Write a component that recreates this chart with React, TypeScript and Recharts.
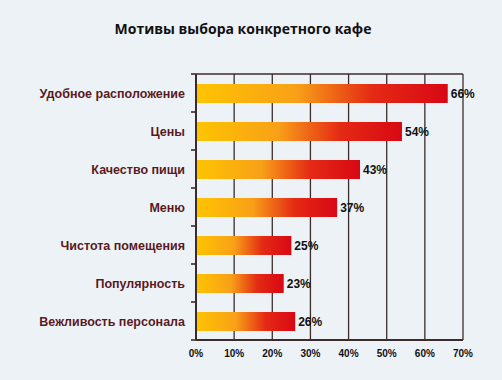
import { Bar, BarChart, CartesianGrid, LabelList, XAxis, YAxis } from "recharts";

const categories = [
  "Удобное расположение",
  "Цены",
  "Качество пищи",
  "Меню",
  "Чистота помещения",
  "Популярность",
  "Вежливость персонала",
];
const shares = [66, 54, 43, 37, 25, 23, 26];
const xTicks = [0, 10, 20, 30, 40, 50, 60, 70];

const data = categories.map((name, i) => ({ name, value: shares[i] }));

const axisColor = "#3b2c2c";
const TICK_SIZE = 6;
const TICK_MARGIN = 5;

// label plus a small tick mark on the band boundary, like the source chart
function CategoryTick(props: any) {
  const { x, y, payload, index, visibleTicksCount } = props;
  const half = payload?.offset || 19;
  const axisX = x + TICK_SIZE + TICK_MARGIN;
  const isLast = index === visibleTicksCount - 1;
  return (
    <g>
      <text
        x={x}
        y={y}
        dy={4.5}
        textAnchor="end"
        fill="#5a1a1e"
        fontSize={12.5}
        fontWeight={700}
      >
        {payload.value}
      </text>
      <line
        x1={axisX - 5}
        x2={axisX}
        y1={y - half}
        y2={y - half}
        stroke={axisColor}
        strokeWidth={1.6}
      />
      {isLast && (
        <line
          x1={axisX - 5}
          x2={axisX}
          y1={y + half}
          y2={y + half}
          stroke={axisColor}
          strokeWidth={1.6}
        />
      )}
    </g>
  );
}

export default function App() {
  return (
    <div
      style={{
        position: "absolute",
        left: 0,
        top: 0,
        width: 502,
        height: 380,
        background: "#edf2f7",
        fontFamily: "'Liberation Sans', Arial, sans-serif",
      }}
    >
      <div
        style={{
          position: "absolute",
          top: 19,
          left: 0,
          width: 486,
          textAlign: "center",
          fontFamily: "'Open Sans', sans-serif",
          fontWeight: 700,
          fontSize: 14,
          color: "#111",
        }}
      >
        Мотивы выбора конкретного кафе
      </div>
      <BarChart
        width={502}
        height={380}
        data={data}
        layout="vertical"
        margin={{ top: 64, right: 39, bottom: 14, left: 0 }}
        barSize={19}
      >
        <defs>
          <linearGradient id="barFill" x1="0" y1="0" x2="1" y2="0">
            <stop offset="0%" stopColor="#ffc400" />
            <stop offset="40%" stopColor="#f8a018" />
            <stop offset="70%" stopColor="#e42a14" />
            <stop offset="100%" stopColor="#d80814" />
          </linearGradient>
        </defs>
        <CartesianGrid
          xAxisId="bottom"
          yAxisId="cat"
          horizontal={false}
          stroke={axisColor}
          strokeWidth={1.3}
        />
        <XAxis
          xAxisId="bottom"
          type="number"
          domain={[0, 70]}
          ticks={xTicks}
          tickFormatter={(v) => `${v}%`}
          tickLine={false}
          axisLine={{ stroke: axisColor, strokeWidth: 2 }}
          tick={{ fill: "#111", fontSize: 10, fontWeight: 700 }}
          tickMargin={4}
          height={26}
        />
        <XAxis
          xAxisId="top"
          orientation="top"
          type="number"
          domain={[0, 70]}
          ticks={xTicks}
          tick={false}
          tickSize={5}
          tickLine={{ stroke: axisColor, strokeWidth: 1.3 }}
          axisLine={{ stroke: axisColor, strokeWidth: 1.5 }}
          height={10}
        />
        <YAxis
          yAxisId="cat"
          type="category"
          dataKey="name"
          width={196}
          tickLine={false}
          tickSize={TICK_SIZE}
          tickMargin={TICK_MARGIN}
          axisLine={{ stroke: axisColor, strokeWidth: 2 }}
          tick={<CategoryTick />}
          interval={0}
        />
        <Bar
          xAxisId="bottom"
          yAxisId="cat"
          dataKey="value"
          fill="url(#barFill)"
          isAnimationActive={false}
        >
          <LabelList
            dataKey="value"
            position="right"
            offset={3}
            formatter={(v: number) => `${v}%`}
            style={{ fill: "#111", fontSize: 12, fontWeight: 700 }}
          />
        </Bar>
      </BarChart>
    </div>
  );
}
